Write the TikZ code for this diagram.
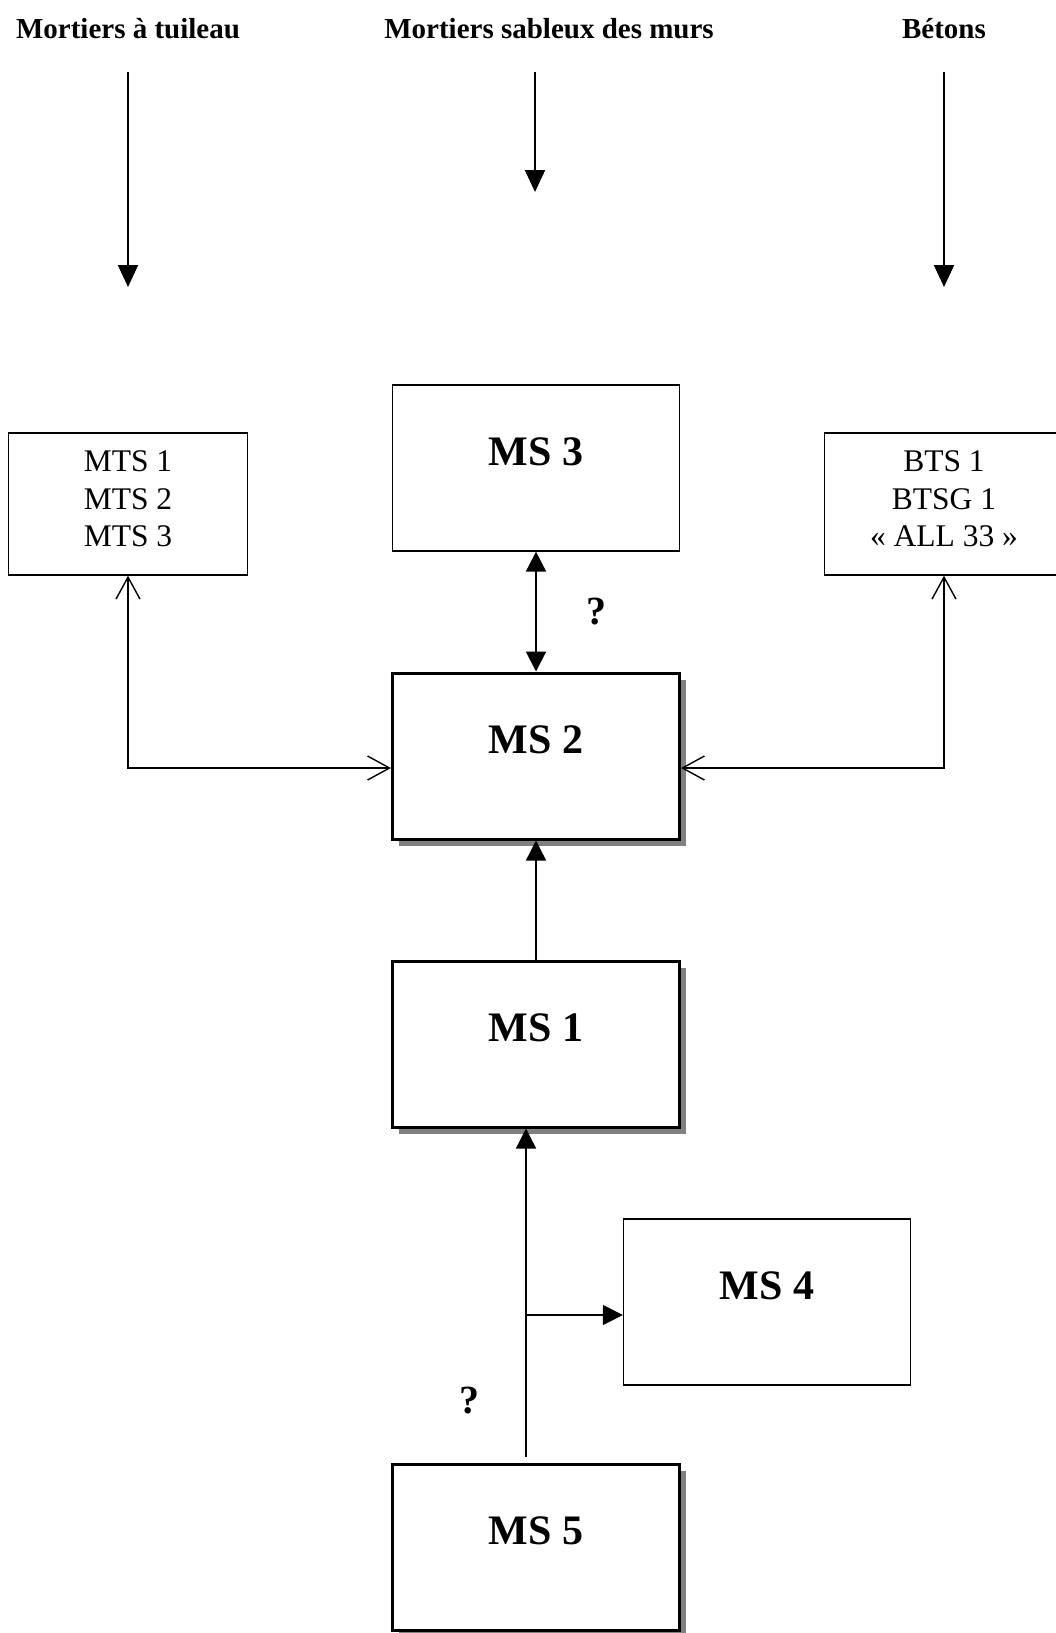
\documentclass[tikz,border=0pt]{standalone}
\usepackage{fontspec}
\setmainfont{Liberation Serif}
\usetikzlibrary{arrows.meta,shadows}

\begin{document}
\begin{tikzpicture}[x=1pt, y=-1pt,
      colhead/.style={font=\bfseries\fontsize{29}{35}\selectfont, inner sep=0pt, anchor=base},
      listbox/.style={draw, line width=1.3pt, minimum width=239pt, minimum height=142pt},
      listtext/.style={align=center, yshift=5pt, font=\fontsize{31.5}{37.5}\selectfont},
      ms/.style={draw, line width=1.3pt, fill=white, minimum width=287pt, minimum height=166pt, text height=29pt, text depth=35pt, font=\bfseries\fontsize{42}{50}\selectfont},
      msbold/.style={ms, line width=3pt, drop shadow={shadow xshift=6.5pt, shadow yshift=-7pt, fill=black!50, opacity=1}},
      qmark/.style={font=\bfseries\fontsize{40}{48}\selectfont},
      feed/.style={line width=2pt, -{Triangle[length=22pt, width=20pt]}},
      flow/.style={line width=1.4pt, -{Triangle[length=20pt, width=20pt]}},
      barbs/.style={line width=1.4pt, {Straight Barb[length=22pt, width=24pt]}-{Straight Barb[length=22pt, width=24pt]}}
    ]
      \useasboundingbox (0,0) rectangle (1056,1633);

      \node[colhead] (hd1) at (128,38) {Mortiers à tuileau};
      \node[colhead] (hd2) at (549,38) {Mortiers sableux des murs};
      \node[colhead] (hd3) at (944,38) {Bétons};

      \coordinate (s1) at (128,72);
      \coordinate (e1) at (128,287);
      \coordinate (s2) at (535,72);
      \coordinate (e2) at (535,192);
      \coordinate (s3) at (944,72);
      \coordinate (e3) at (944,287);
      \draw[feed] (s1) -- (e1);
      \draw[feed] (s2) -- (e2);
      \draw[feed] (s3) -- (e3);

      \node[listbox, label={[listtext]center:MTS 1\\MTS 2\\MTS 3}] (mts) at (128,504) {};
      \node[listbox, label={[listtext]center:BTS 1\\BTSG 1\\« ALL 33 »}] (bts) at (944,504) {};

      \node[ms] (ms3) at (536,468) {MS 3};
      \node[msbold] (ms2) at (536,756) {MS 2};
      \node[msbold] (ms1) at (536,1044) {MS 1};
      \node[ms] (ms4) at (767,1302) {MS 4};
      \node[msbold] (ms5) at (536,1547) {MS 5};

      \node[qmark] (q1) at (596,612) {?};
      \node[qmark] (q2) at (469,1401) {?};

      \draw[line width=2pt, {Triangle[length=20pt, width=20pt]}-{Triangle[length=20pt, width=20pt]}] (ms3.south) -- (ms2.north);
      \draw[flow] (ms1.north) -- (ms2.south);

      \coordinate (jl) at (128,768);
      \coordinate (jr) at (944,768);
      \draw[barbs] (mts.south) -- (jl) -- (jl -| ms2.west);
      \draw[barbs] (bts.south) -- (jr) -- (jr -| ms2.east);

      \coordinate (br) at (526,1315);
      \draw[flow, shorten <=6pt] ([xshift=-10pt]ms5.north) -- ([xshift=-10pt]ms1.south);
      \draw[flow] (br) -- (br -| ms4.west);
    \end{tikzpicture}
\end{document}
